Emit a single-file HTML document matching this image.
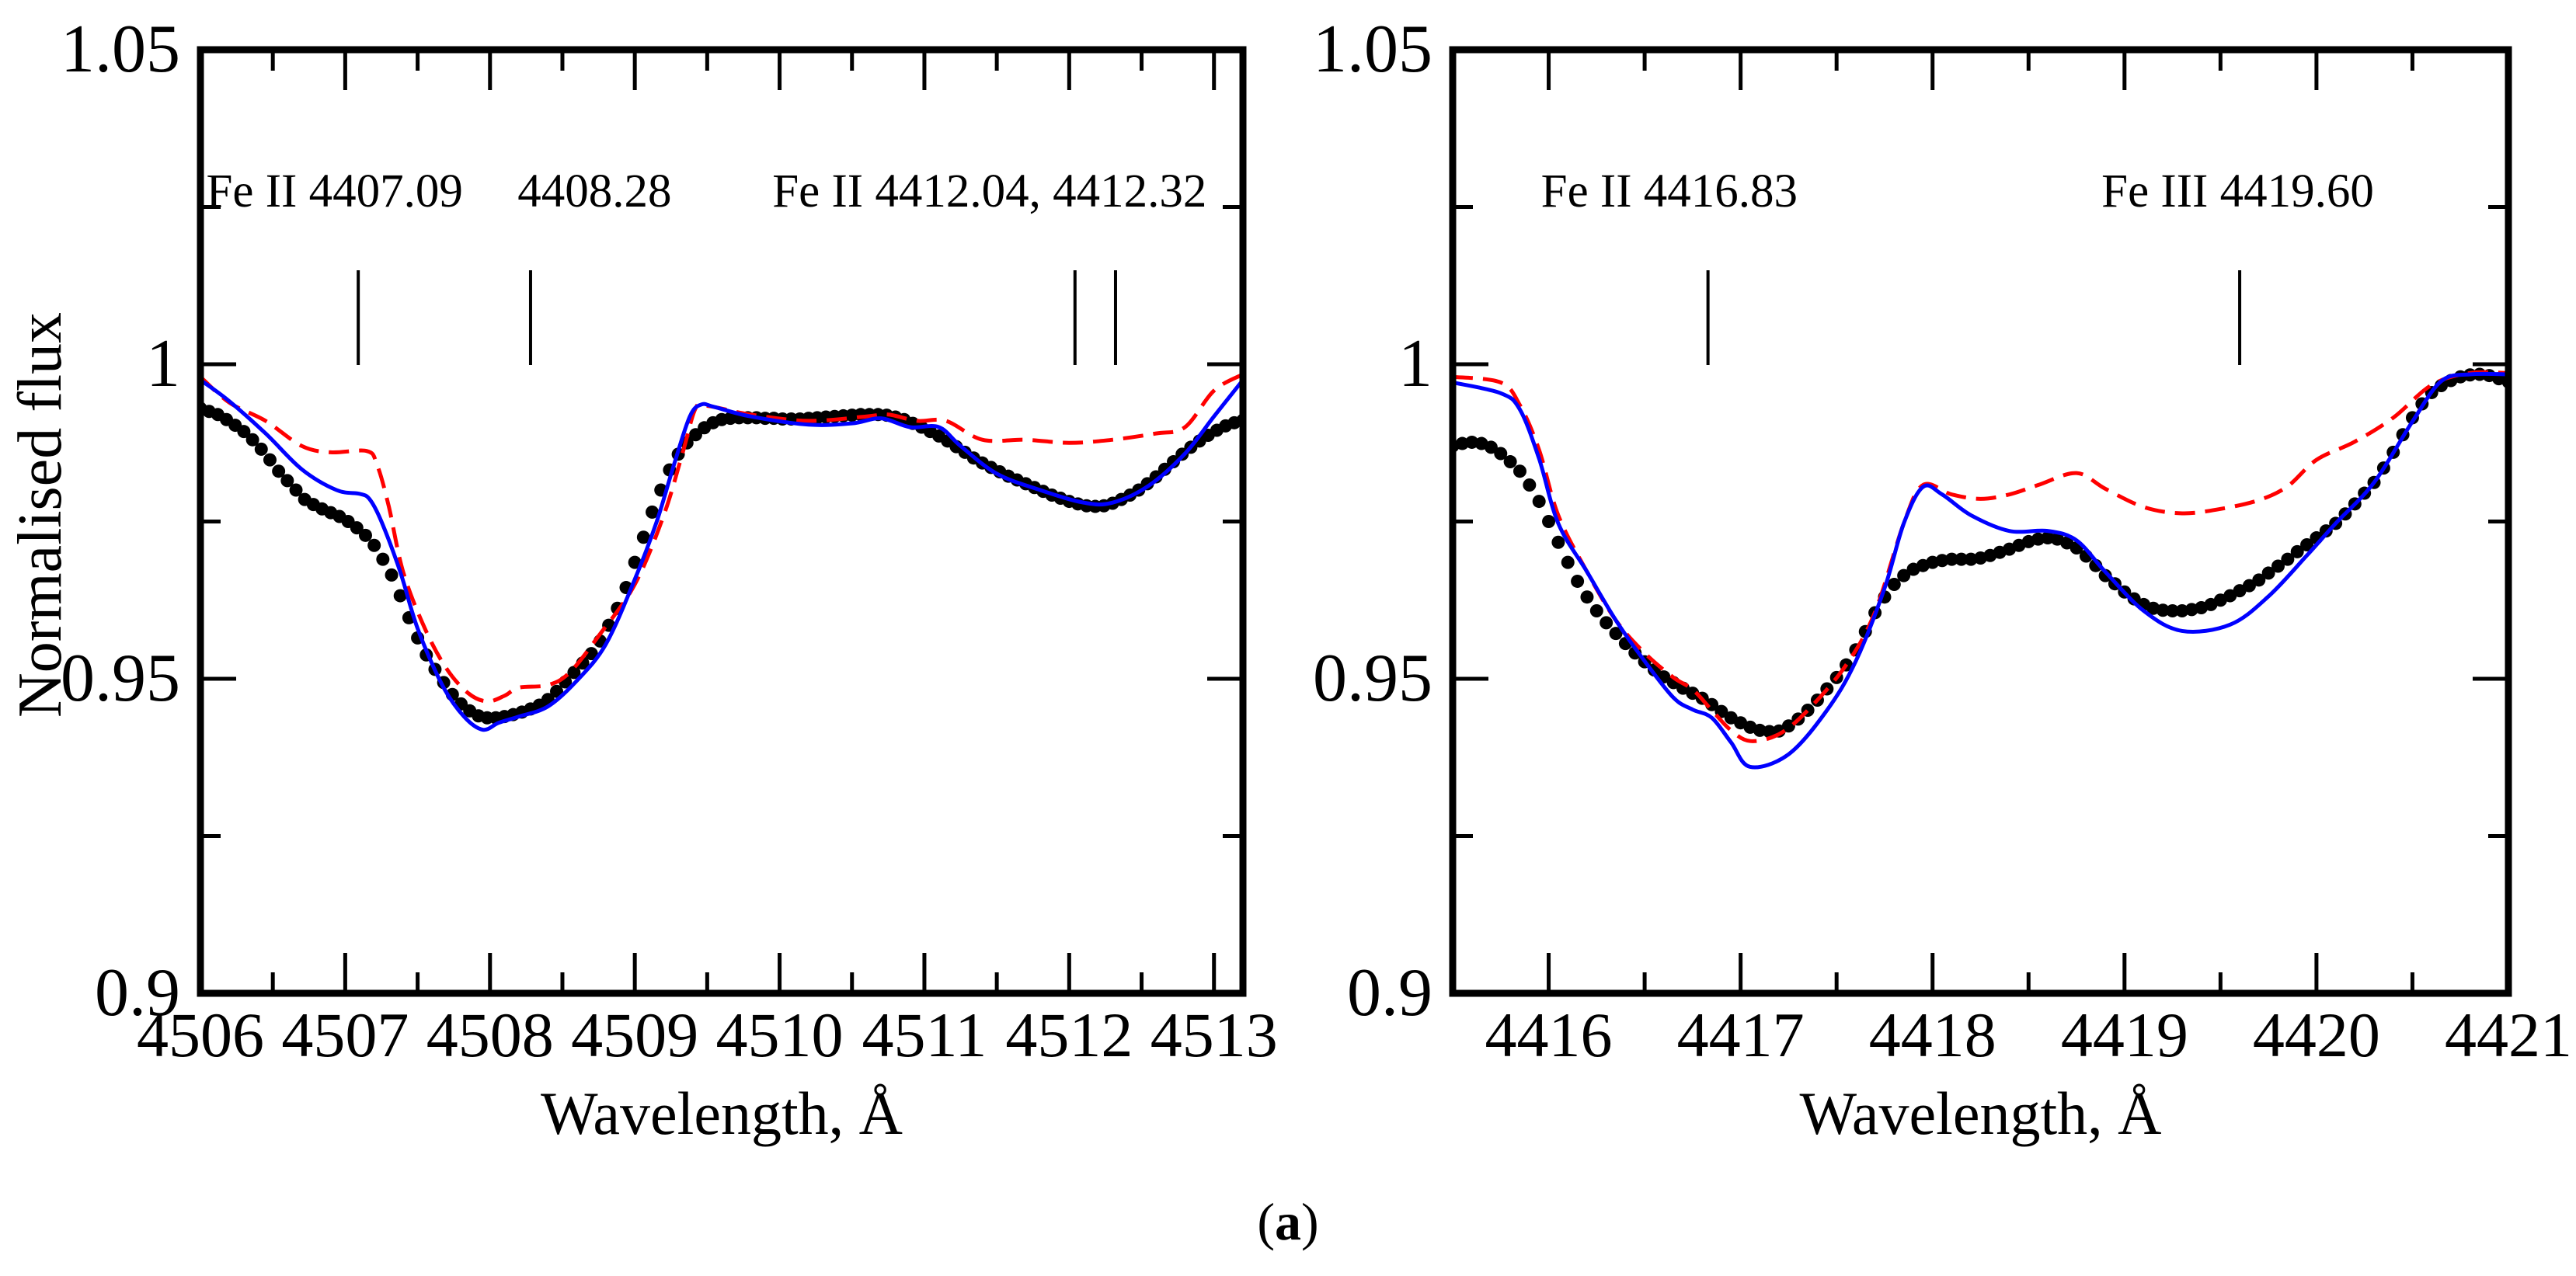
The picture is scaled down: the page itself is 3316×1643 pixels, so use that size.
<!DOCTYPE html>
<html><head><meta charset="utf-8"><style>
html,body{margin:0;padding:0;background:#fff;}
svg{display:block;}
text{font-family:"Liberation Serif",serif;fill:#000;}
</style></head><body>
<svg id="fig" width="3316" height="1643" viewBox="0 0 3316 1643" xmlns="http://www.w3.org/2000/svg">
<text x="1658" y="1596" font-size="68" text-anchor="middle">(<tspan font-weight="bold">a</tspan>)</text>
</svg>
<script>
// ---------- DATA ----------
const yTicksMajor = [0.9, 0.95, 1.0, 1.05];
const yTickLabels = ["0.9", "0.95", "1", "1.05"];
const leftXTicks = [4506, 4507, 4508, 4509, 4510, 4511, 4512, 4513];
const rightXTicks = [4416, 4417, 4418, 4419, 4420, 4421];

const leftObsStart = 4506.0;
const leftObsStep = 0.06;
const leftObs = [.9930,.9925,.9920,.9912,.9903,.9893,.9880,.9865,.9848,.9830,.9815,.9800,.9785,.9777,.9770,.9764,.9758,.9750,.9740,.9728,
.9712,.9690,.9665,.9632,.9597,.9565,.9538,.9515,.9494,.9475,.9460,.9449,.9441,.9438,.9438,.9440,.9443,.9447,.9452,.9458,
.9467,.9480,.9495,.9510,.9525,.9540,.9560,.9585,.9612,.9645,.9685,.9725,.9765,.9800,.9832,.9857,.9875,.9888,.9899,.9907,
.9912,.9914,.9915,.9915,.9915,.9914,.9914,.9913,.9913,.9913,.9914,.9915,.9916,.9917,.9918,.9919,.9920,.9920,.9920,.9919,
.9916,.9912,.9906,.9900,.9893,.9886,.9878,.9869,.9860,.9851,.9843,.9836,.9829,.9822,.9816,.9810,.9804,.9798,.9792,.9787,
.9782,.9778,.9775,.9774,.9775,.9779,.9785,.9792,.9800,.9810,.9821,.9833,.9845,.9857,.9868,.9878,.9887,.9895,.9902,.9907,.9911];

const leftBlueX = [4506,4506.19,4506.45,4506.7,4506.94,4507.1,4507.17,4507.25,4507.38,4507.5,4507.67,4507.82,4507.95,4508.06,4508.2,4508.4,4508.6,4508.8,4509,4509.15,4509.27,4509.38,4509.46,4509.55,4509.8,4510.2,4510.5,4510.7,4510.9,4511.1,4511.25,4511.5,4511.8,4512.1,4512.3,4512.55,4512.8,4513.0,4513.2];
const leftBlueY = [.9975,.9943,.989,.9833,.980,.9794,.9785,.975,.967,.958,.949,.944,.9419,.943,.944,.9456,.9497,.9555,.9658,.9749,.984,.9917,.9936,.9932,.9917,.9904,.9906,.9914,.990,.990,.987,.9826,.980,.978,.978,.9807,.9858,.9917,.9975];

const leftRedX = [4506,4506.2,4506.45,4506.7,4506.9,4507.15,4507.22,4507.3,4507.4,4507.55,4507.7,4507.85,4507.98,4508.1,4508.2,4508.4,4508.55,4508.75,4509,4509.2,4509.33,4509.42,4509.5,4509.8,4510.2,4510.6,4510.75,4510.95,4511.15,4511.4,4511.7,4512.0,4512.3,4512.6,4512.8,4513.0,4513.2];
const leftRedY = [.998,.9939,.991,.987,.986,.9862,.984,.9775,.967,.958,.9516,.9477,.9464,.9473,.9486,.949,.951,.9568,.965,.976,.9859,.993,.9934,.992,.991,.9917,.992,.991,.991,.988,.988,.9875,.988,.989,.990,.9958,.9984];

const rightObsStart = 4415.5;
const rightObsStep = 0.05;
const rightObs = [.9870,.9874,.9876,.9874,.9868,.9858,.9845,.9830,.9808,.9782,.9750,.9717,.9685,.9655,.9630,.9608,.9589,.9572,.9556,.9541,
.9527,.9514,.9503,.9494,.9485,.9477,.9469,.9459,.9448,.9438,.9430,.9423,.9418,.9416,.9417,.9425,.9436,.9450,.9466,.9484,
.9502,.9522,.9546,.9575,.9605,.9630,.9650,.9664,.9674,.9680,.9685,.9688,.9690,.9690,.9690,.9692,.9696,.9701,.9706,.9712,
.9718,.9722,.9724,.9722,.9716,.9708,.9695,.9680,.9664,.9651,.9638,.9627,.9618,.9612,.9609,.9608,.9608,.9610,.9613,.9618,
.9625,.9632,.9640,.9648,.9657,.9668,.9679,.9690,.9702,.9713,.9724,.9735,.9747,.9762,.9778,.9795,.9812,.9835,.9860,.9888,
.9915,.9937,.9955,.9966,.9974,.9980,.9983,.9984,.9982,.9977,.9972];

const rightBlueX = [4415.5,4415.75,4415.85,4415.95,4416.05,4416.2,4416.35,4416.5,4416.65,4416.75,4416.85,4416.95,4417.05,4417.25,4417.45,4417.6,4417.75,4417.85,4417.95,4418.05,4418.2,4418.4,4418.6,4418.75,4418.9,4419.1,4419.3,4419.55,4419.75,4419.95,4420.1,4420.3,4420.5,4420.65,4420.8,4421];
const rightBlueY = [.9971,.9954,.9928,.985,.9747,.967,.9593,.9528,.947,.9451,.9438,.9399,.936,.938,.945,.9528,.9644,.9747,.9805,.9793,.976,.9735,.9735,.972,.967,.9608,.9576,.9586,.9631,.9696,.9747,.9812,.9909,.9973,.9984,.9984];

const rightRedX = [4415.5,4415.75,4415.85,4415.95,4416.05,4416.2,4416.35,4416.5,4416.65,4416.75,4416.85,4416.95,4417.05,4417.2,4417.35,4417.55,4417.7,4417.85,4417.95,4418.1,4418.25,4418.4,4418.55,4418.75,4418.9,4419.1,4419.3,4419.5,4419.7,4419.85,4420.0,4420.2,4420.4,4420.6,4420.8,4421];
const rightRedY = [.998,.9971,.9935,.9864,.976,.967,.9593,.9541,.9502,.9483,.945,.9418,.9401,.9412,.945,.9522,.9606,.9747,.9808,.9793,.9786,.9793,.9808,.9827,.9802,.9773,.9763,.977,.9784,.9806,.9848,.9877,.9915,.9967,.9986,.9986];

const leftLines = [4507.09, 4508.28, 4512.04, 4512.32];
const rightLines = [4416.83, 4419.60];
const leftNotes = ["Fe II 4407.09", "4408.28", "Fe II 4412.04, 4412.32"];
const leftNoteX = [4506.04, 4508.19, 4509.95];
const rightNotes = ["Fe II 4416.83", "Fe III 4419.60"];
const rightNoteX = [4415.96, 4418.88];

// ---------- DRAW ----------
const NS = "http://www.w3.org/2000/svg";
const svg = document.getElementById('fig');
function el(tag, attrs, parent){ const e=document.createElementNS(NS,tag); for(const k in attrs) e.setAttribute(k,attrs[k]); (parent||svg).appendChild(e); return e; }

const Y0 = 64, Y1 = 1279;
const yS = v => Y0 + (1.05 - v) / 0.15 * (Y1 - Y0);

function smoothPath(pts){
  let d = 'M' + pts[0][0] + ',' + pts[0][1];
  for (let i = 0; i < pts.length - 1; i++) {
    const p0 = pts[Math.max(0,i-1)], p1 = pts[i], p2 = pts[i+1], p3 = pts[Math.min(pts.length-1,i+2)];
    const c1x = p1[0] + (p2[0]-p0[0])/6, c1y = p1[1] + (p2[1]-p0[1])/6;
    const c2x = p2[0] - (p3[0]-p1[0])/6, c2y = p2[1] - (p3[1]-p1[1])/6;
    d += ' C' + c1x + ',' + c1y + ' ' + c2x + ',' + c2y + ' ' + p2[0] + ',' + p2[1];
  }
  return d;
}

function panel(name, px0, px1, xmin, xmax, xTicks, obsStart, obsStep, obs, bx, by, rx, ry, lines, notes, noteX, showYTitle){
  const xS = w => px0 + (w - xmin) / (xmax - xmin) * (px1 - px0);
  const g = el('g', {});
  
  

  for (let w = Math.ceil(xmin*2)/2; w <= xmax + 1e-9; w += 0.5) {
    const major = Math.abs(w - Math.round(w)) < 1e-6;
    const L = major ? 52 : 27;
    const x = xS(w);
    if (x > px1 - 3) continue;
    const t1 = el('line', {x1:x, y1:Y1, x2:x, y2:Y1-L, stroke:'#000','stroke-width':5}, g);
    
    
    const t2 = el('line', {x1:x, y1:Y0, x2:x, y2:Y0+L, stroke:'#000','stroke-width':5}, g);
    
    
  }
  for (let v = 0.925; v < 1.05; v += 0.025) {
    const major = Math.abs(v*20 - Math.round(v*20)) < 1e-6;
    const L = major ? 46 : 26;
    const y = yS(v);
    const a = el('line', {x1:px0, y1:y, x2:px0+L, y2:y, stroke:'#000','stroke-width':5}, g);
    
    
    const b = el('line', {x1:px1, y1:y, x2:px1-L, y2:y, stroke:'#000','stroke-width':5}, g);
    
    
  }
  xTicks.forEach(w => {
    const t = el('text', {x:xS(w), y:1360, 'font-size':82, 'text-anchor':'middle'}, g);
    
    
    t.textContent = String(w);
  });
  yTicksMajor.forEach((v,i) => {
    const t = el('text', {x:px0-26, y:yS(v)+28, 'font-size':88, 'text-anchor':'end'}, g);
    
    
    t.textContent = yTickLabels[i];
  });
  const xt = el('text', {x:(px0+px1)/2, y:1460, 'font-size':78, 'text-anchor':'middle'}, g);
  
  
  xt.textContent = 'Wavelength, Å';
  if (showYTitle) {
    const yt = el('text', {x:0, y:0, 'font-size':80, 'text-anchor':'middle', transform:'translate(78,663) rotate(-90)'}, g);
    
    
    yt.textContent = 'Normalised flux';
  }
  lines.forEach(w => {
    const m = el('line', {x1:xS(w), y1:348, x2:xS(w), y2:470, stroke:'#000','stroke-width':4}, g);
    
    
  });
  notes.forEach((s,i) => {
    const t = el('text', {x:xS(noteX[i]), y:266, 'font-size':61}, g);
    
    
    t.textContent = s;
  });
  const cid = name + '-clip';
  const cp = el('clipPath', {id:cid}, g);
  el('rect', {x:px0, y:Y0, width:px1-px0, height:Y1-Y0}, cp);
  const dg = el('g', {'clip-path':'url(#'+cid+')'}, g);
  obs.forEach((v,i) => {
    const c = el('circle', {cx:xS(obsStart + i*obsStep), cy:yS(v), r:8.5, fill:'#000'}, dg);
    
    
  });
  const rp = el('path', {d: smoothPath(rx.map((w,i)=>[xS(w), yS(ry[i])])), fill:'none', stroke:'#ff0000','stroke-width':5,'stroke-dasharray':'26,13'}, dg);
  
  
  const bp = el('path', {d: smoothPath(bx.map((w,i)=>[xS(w), yS(by[i])])), fill:'none', stroke:'#0000ff','stroke-width':5}, dg);
  
  
  const fr = el('rect', {x:px0, y:Y0, width:px1-px0, height:Y1-Y0, fill:'none', stroke:'#000','stroke-width':9}, g);
  
  
}

panel('left-panel', 258, 1600, 4506, 4513.2, leftXTicks, leftObsStart, leftObsStep, leftObs, leftBlueX, leftBlueY, leftRedX, leftRedY, leftLines, leftNotes, leftNoteX, true);
panel('right-panel', 1870, 3229, 4415.5, 4421, rightXTicks, rightObsStart, rightObsStep, rightObs, rightBlueX, rightBlueY, rightRedX, rightRedY, rightLines, rightNotes, rightNoteX, false);
</script>
</body></html>
